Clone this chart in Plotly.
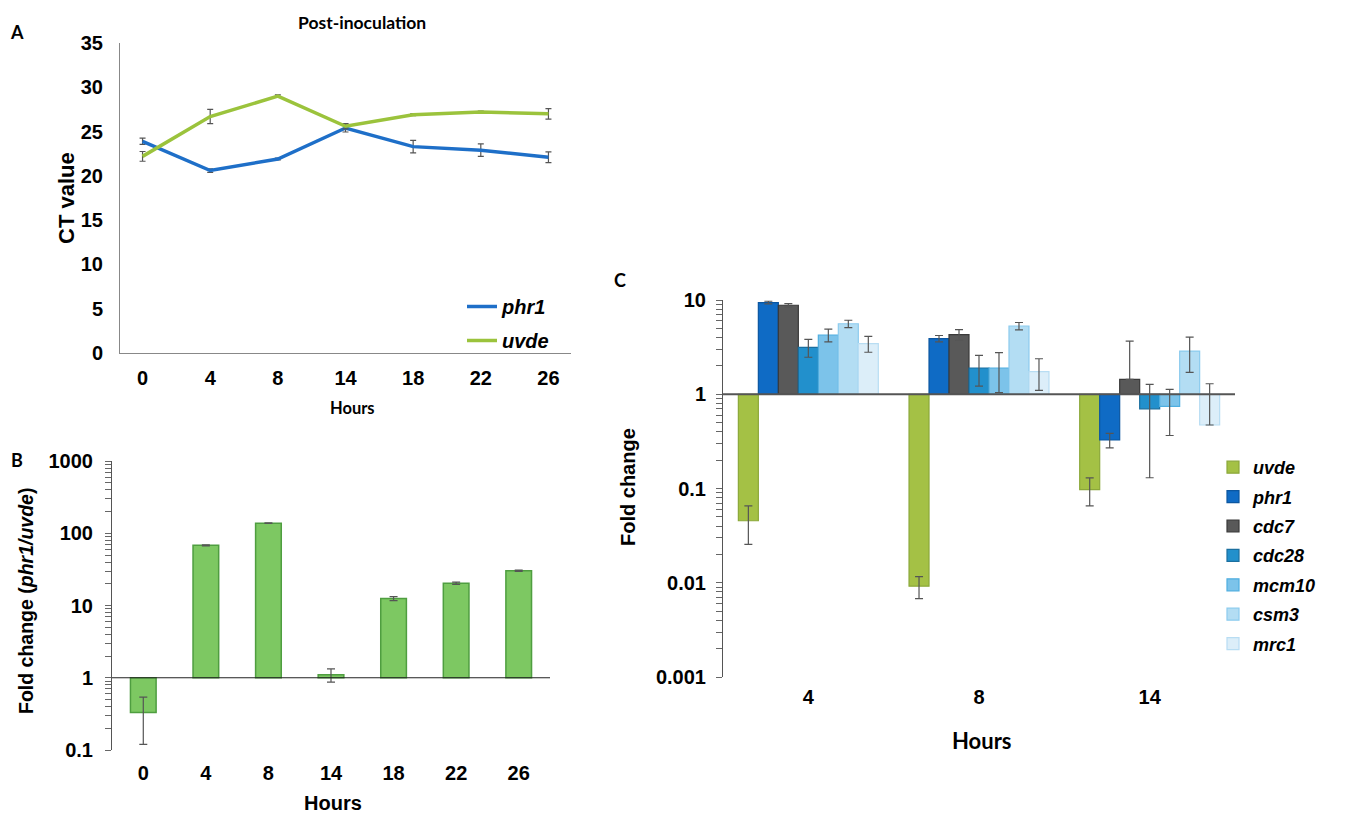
import plotly.graph_objects as go

# ---------------- Data ----------------
# Panel A: CT values post-inoculation
hours_a = ["0", "4", "8", "14", "18", "22", "26"]
phr1_ct = [23.9, 20.6, 21.9, 25.4, 23.3, 22.9, 22.1]
phr1_ct_err = [0.35, 0.2, 0.1, 0.45, 0.7, 0.7, 0.6]
uvde_ct = [22.2, 26.7, 29.0, 25.6, 26.9, 27.2, 27.0]
uvde_ct_err = [0.55, 0.8, 0.15, 0.3, 0.1, 0.1, 0.6]

# Panel B: fold change phr1/uvde
hours_b = ["0", "4", "8", "14", "18", "22", "26"]
fold_b = [0.33, 68.0, 138.0, 1.1, 12.5, 20.3, 30.3]
fold_b_err = [0.21, 1.0, 1.5, 0.23, 0.8, 0.7, 0.6]
ticks_b = [0.1, 1, 10, 100, 1000]
ticklabels_b = ["0.1", "1", "10", "100", "1000"]

# Panel C: fold change per gene
hours_c = ["4", "8", "14"]
genes_c = ["uvde", "phr1", "cdc7", "cdc28", "mcm10", "csm3", "mrc1"]
uvde_fc = [0.0455, 0.0092, 0.0975]
uvde_fc_err = [0.02, 0.0024, 0.032]
phr1_fc = [9.4, 3.9, 0.327]
phr1_fc_err = [0.3, 0.3, 0.057]
cdc7_fc = [8.8, 4.3, 1.44]
cdc7_fc_err = [0.35, 0.56, 2.22]
cdc28_fc = [3.15, 1.9, 0.70]
cdc28_fc_err = [0.68, 0.68, 0.57]
mcm10_fc = [4.25, 1.9, 0.745]
mcm10_fc_err = [0.65, 0.86, 0.38]
csm3_fc = [5.6, 5.3, 2.87]
csm3_fc_err = [0.5, 0.47, 1.16]
mrc1_fc = [3.45, 1.74, 0.472]
mrc1_fc_err = [0.66, 0.64, 0.82]
ticks_c = [0.001, 0.01, 0.1, 1, 10]
ticklabels_c = ["0.001", "0.01", "0.1", "1", "10"]

fill_c = ["#A4C145", "#0F6BC5", "#595959", "#2290CC", "#7CC3EA", "#B3DDF3", "#DCEEF9"]
edge_c = ["#8BA83A", "#0B56A0", "#3A3A3A", "#1B6F9F", "#4FAEE0", "#8CCBEE", "#B8DDF3"]

W, H = 1366, 816
ARIAL = "Liberation Sans, Arial, sans-serif"
CALI = "Lato, Liberation Sans, sans-serif"
ERRC = "#555555"


def px_x(x):
    return x / W


def px_y(y):
    return 1 - y / H


def minus_err(vals, errs):
    return [e if v - e > 0 else 0 for v, e in zip(vals, errs)]


def log_ticks(majors, labels):
    # majors keep their labels; minor positions 2..9 of every decade get empty labels
    vals = list(majors)
    text = list(labels)
    for k in range(len(majors) - 1):
        for m in range(2, 10):
            vals.append(majors[k] * m)
            text.append("")
    return vals, text


fig = go.Figure()

# ---------------- Panel A ----------------
fig.add_trace(go.Scatter(
    x=hours_a, y=phr1_ct, mode="lines", name="<b><i>phr1</i></b>",
    line=dict(color="#1E6FC8", width=3.5),
    error_y=dict(type="data", array=phr1_ct_err, color=ERRC, thickness=1.2, width=3),
    xaxis="x", yaxis="y", legend="legend2", legendgroup="a1"))
fig.add_trace(go.Scatter(
    x=hours_a, y=uvde_ct, mode="lines", name="<b><i>uvde</i></b>",
    line=dict(color="#9BC33C", width=3.5),
    error_y=dict(type="data", array=uvde_ct_err, color=ERRC, thickness=1.2, width=3),
    xaxis="x", yaxis="y", legend="legend2", legendgroup="a2"))

# ---------------- Panel B ----------------
fig.add_trace(go.Bar(
    x=hours_b, y=[v - 1 for v in fold_b], base=1, width=0.41,
    marker=dict(color="#7DC862", line=dict(color="#4F9E40", width=1.5)),
    error_y=dict(type="data", array=fold_b_err, arrayminus=minus_err(fold_b, fold_b_err),
                 color=ERRC, thickness=1.2, width=4),
    xaxis="x2", yaxis="y2", showlegend=False))

# ---------------- Panel C ----------------
vals_c = [uvde_fc, phr1_fc, cdc7_fc, cdc28_fc, mcm10_fc, csm3_fc, mrc1_fc]
errs_c = [uvde_fc_err, phr1_fc_err, cdc7_fc_err, cdc28_fc_err, mcm10_fc_err, csm3_fc_err, mrc1_fc_err]
for i, g in enumerate(genes_c):
    v = vals_c[i]
    e = errs_c[i]
    fig.add_trace(go.Bar(
        x=hours_c, y=[a - 1 for a in v], base=1, name="<b><i>%s</i></b>" % g,
        marker=dict(color=fill_c[i], line=dict(color=edge_c[i], width=1.2)),
        error_y=dict(type="data", array=e, arrayminus=minus_err(v, e),
                     color=ERRC, thickness=1.2, width=4),
        xaxis="x3", yaxis="y3", legend="legend", legendgroup="c%d" % i))

TF = dict(family=ARIAL, size=20, color="black", weight="bold")
tv_b, tt_b = log_ticks(ticks_b, ticklabels_b)
tv_c, tt_c = log_ticks(ticks_c, ticklabels_c)

fig.update_layout(
    width=W, height=H, margin=dict(l=0, r=0, t=0, b=0, pad=0, autoexpand=False),
    paper_bgcolor="white", plot_bgcolor="white",
    barmode="group", bargap=0.18, bargroupgap=0,
    # Panel A axes
    xaxis=dict(domain=[px_x(120), px_x(571)], type="category", anchor="y", automargin=False,
               showline=True, linecolor="#888888", linewidth=1, ticks="",
               tickfont=TF, showgrid=False, zeroline=False, ticklabelstandoff=7),
    yaxis=dict(domain=[px_y(353), px_y(43)], range=[0, 35], dtick=5, anchor="x", automargin=False,
               showline=True, linecolor="#888888", linewidth=1, ticks="",
               tickfont=TF, showgrid=False, zeroline=False, ticklabelstandoff=12),
    # Panel B axes
    xaxis2=dict(domain=[px_x(112), px_x(550)], type="category", anchor="y2", automargin=False,
                showline=False, ticks="", tickfont=TF,
                showgrid=False, zeroline=False, ticklabelstandoff=9),
    yaxis2=dict(domain=[px_y(750), px_y(461)], type="log", range=[-1, 3], anchor="x2", automargin=False,
                tickmode="array", tickvals=tv_b, ticktext=tt_b,
                showline=True, linecolor="#555555", linewidth=1, ticks="outside",
                ticklen=6, tickcolor="#666666", tickwidth=1,
                tickfont=TF, showgrid=False, zeroline=False, ticklabelstandoff=8),
    # Panel C axes
    xaxis3=dict(domain=[px_x(723), px_x(1235)], type="category", anchor="y3", automargin=False,
                showline=False, ticks="", tickfont=TF,
                showgrid=False, zeroline=False, ticklabelstandoff=6),
    yaxis3=dict(domain=[px_y(677), px_y(300)], type="log", range=[-3, 1], anchor="x3", automargin=False,
                tickmode="array", tickvals=tv_c, ticktext=tt_c,
                showline=True, linecolor="#555555", linewidth=1, ticks="outside",
                ticklen=6, tickcolor="#666666", tickwidth=1,
                tickfont=TF, showgrid=False, zeroline=False, ticklabelstandoff=6),
    legend=dict(x=px_x(1213), y=px_y(449), xanchor="left", yanchor="top",
                font=dict(family=ARIAL, size=18, color="black"),
                traceorder="grouped", tracegroupgap=3, itemwidth=30,
                bgcolor="rgba(0,0,0,0)"),
    legend2=dict(x=px_x(462), y=px_y(287), xanchor="left", yanchor="top",
                 font=dict(family=ARIAL, size=20, color="black"),
                 traceorder="grouped", tracegroupgap=5, itemwidth=30,
                 bgcolor="rgba(0,0,0,0)"),
    shapes=[
        dict(type="line", xref="x2 domain", yref="y2", x0=0, x1=1, y0=1, y1=1,
             line=dict(color="#222222", width=1.2), layer="above"),
        dict(type="line", xref="x3 domain", yref="y3", x0=0, x1=1, y0=1, y1=1,
             line=dict(color="#555555", width=2), layer="above"),
    ],
)

ann = [
    dict(text="<b>A</b>", x=17, y=32, size=18, family=CALI, angle=0),
    dict(text="<b>Post-inoculation</b>", x=362, y=22, size=17.5, family=CALI, angle=0),
    dict(text="<b>CT value</b>", x=66, y=198, size=22, family=ARIAL, angle=-90),
    dict(text="<b>Hours</b>", x=352, y=408, size=16.5, family=CALI, angle=0),
    dict(text="<b>B</b>", x=17, y=460, size=18, family=CALI, angle=0),
    dict(text="<b>Fold change (<i>phr1/uvde</i>)</b>", x=26, y=601, size=19.5, family=ARIAL, angle=-90),
    dict(text="<b>Hours</b>", x=333, y=803, size=20, family=ARIAL, angle=0),
    dict(text="<b>C</b>", x=620, y=280, size=18, family=CALI, angle=0),
    dict(text="<b>Fold change</b>", x=628, y=487, size=20, family=ARIAL, angle=-90),
    dict(text="<b>Hours</b>", x=982, y=740, size=22, family=CALI, angle=0),
]
for a in ann:
    fig.add_annotation(text=a["text"], x=px_x(a["x"]), y=px_y(a["y"]), xref="paper", yref="paper",
                       xanchor="center", yanchor="middle", showarrow=False, textangle=a["angle"],
                       font=dict(family=a["family"], size=a["size"], color="black"))

fig.write_html("out.html", config={"displayModeBar": False},
               post_script="document.body.style.margin='0px';")
